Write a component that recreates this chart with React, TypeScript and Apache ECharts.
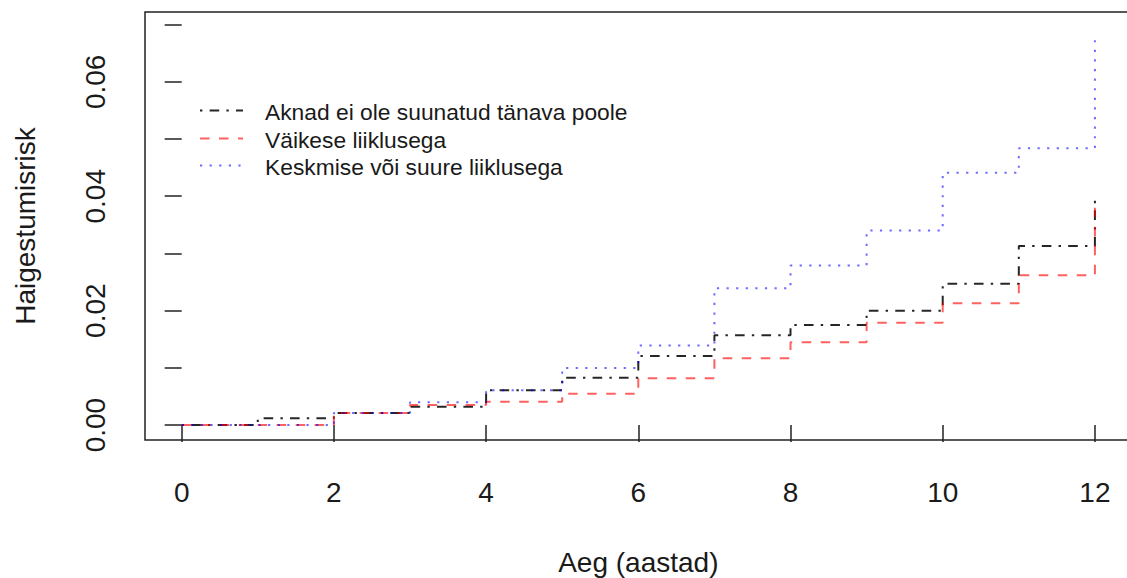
import React, { useEffect, useRef } from "react";
import * as echarts from "echarts";

const years = [0, 1, 2, 3, 4, 5, 6, 7, 8, 9, 10, 11, 12];
const seriesNames = [
  "Aknad ei ole suunatud tänava poole",
  "Väikese liiklusega",
  "Keskmise või suure liiklusega",
];
const riskNotFacing = [0, 0.0012, 0.0021, 0.0032, 0.0061, 0.0083, 0.0121, 0.0157, 0.0175, 0.02, 0.0247, 0.0313, 0.0402];
const riskLowTraffic = [0, 0, 0.0021, 0.0035, 0.0041, 0.0055, 0.0082, 0.0117, 0.0145, 0.0179, 0.0213, 0.0262, 0.0383];
const riskHighTraffic = [0, 0, 0.0021, 0.004, 0.0061, 0.01, 0.0139, 0.0239, 0.0279, 0.034, 0.0441, 0.0484, 0.0685];
const xTickValues = [0, 2, 4, 6, 8, 10, 12];
const yTickValues = [0, 0.01, 0.02, 0.03, 0.04, 0.05, 0.06, 0.07];
const yLabelValues = [0, 0.02, 0.04, 0.06];
const xTitle = "Aeg (aastad)";
const yTitle = "Haigestumisrisk";

const FONT = "'Liberation Sans', Arial, Helvetica, sans-serif";
const colors = ["rgba(0,0,0,0.85)", "rgba(255,0,0,0.62)", "rgba(0,0,255,0.58)"];
const dashes = [
  [2.4, 7.2, 9.6, 7.2],
  [9.5, 9.5],
  [2.2, 7.4],
];

export default function App() {
  const ref = useRef<HTMLDivElement>(null);
  useEffect(() => {
    if (!ref.current) return;
    const chart = echarts.init(ref.current, null, { renderer: "svg" });
    const allValues = [riskNotFacing, riskLowTraffic, riskHighTraffic];
    const series = allValues.map((vals, i) => ({
      name: seriesNames[i],
      type: "line",
      step: "end",
      symbol: "none",
      silent: true,
      data: years.map((x, j) => [x, vals[j]]),
      lineStyle: { color: colors[i], width: 2, type: dashes[i], cap: "butt" },
      z: 2 + i,
    }));

    const legendX0 = 200;
    const legendX1 = 243;
    const legendTextX = 265;
    const legendRows = [112, 140, 167];
    const graphic: any[] = [];
    seriesNames.forEach((name, i) => {
      graphic.push({
        type: "line",
        shape: { x1: legendX0, y1: legendRows[i] - 1.5, x2: legendX1, y2: legendRows[i] - 1.5 },
        style: { stroke: colors[i], lineWidth: 2, lineDash: dashes[i] },
        silent: true,
      });
      graphic.push({
        type: "text",
        x: legendTextX,
        y: legendRows[i],
        style: {
          text: name,
          font: `22.8px ${FONT}`,
          fill: "#1a1a1a",
          textVerticalAlign: "middle",
          textAlign: "left",
        },
        silent: true,
      });
    });

    chart.setOption({
      animation: false,
      backgroundColor: "#ffffff",
      grid: {
        left: 145,
        top: 12,
        width: 986.6,
        height: 428,
        outerBoundsMode: "none",
        containLabel: false,
        show: true,
        borderColor: "#222",
        borderWidth: 1.5,
        backgroundColor: "transparent",
      },
      xAxis: {
        type: "value",
        min: -0.482,
        max: 12.482,
        name: xTitle,
        nameLocation: "middle",
        nameGap: 108,
        nameTextStyle: { fontFamily: FONT, fontSize: 28, color: "#1a1a1a" },
        axisLine: { show: false },
        splitLine: { show: false },
        axisTick: {
          show: true,
          inside: false,
          length: 17,
          customValues: xTickValues,
          lineStyle: { color: "#222", width: 1.5 },
        },
        axisLabel: {
          show: true,
          customValues: xTickValues,
          margin: 38,
          fontFamily: FONT,
          fontSize: 28,
          color: "#1a1a1a",
          formatter: (v: number) => String(v),
        },
      },
      yAxis: {
        type: "value",
        min: -0.0026,
        max: 0.0722,
        name: yTitle,
        nameLocation: "middle",
        nameGap: 106,
        nameTextStyle: { fontFamily: FONT, fontSize: 28, color: "#1a1a1a" },
        axisLine: { show: false },
        splitLine: { show: false },
        axisTick: {
          show: true,
          inside: false,
          length: 17,
          customValues: yTickValues,
          lineStyle: { color: "#222", width: 1.5 },
        },
        axisLabel: {
          show: true,
          customValues: yLabelValues,
          rotate: 90,
          margin: 36,
          fontFamily: FONT,
          fontSize: 28,
          color: "#1a1a1a",
          formatter: (v: number) => v.toFixed(2),
        },
      },
      series,
      graphic,
    });
    return () => chart.dispose();
  }, []);
  return (
    <div
      ref={ref}
      style={{ position: "absolute", left: 0, top: 0, width: 1127, height: 578 }}
    />
  );
}
